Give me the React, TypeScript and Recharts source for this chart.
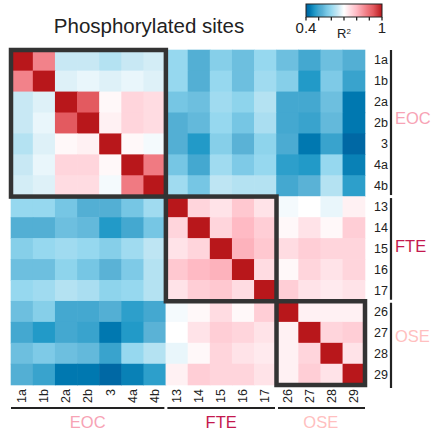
import React from 'react';
import { ScatterChart, Scatter, XAxis, YAxis } from 'recharts';

const sampleLabels = ['1a', '1b', '2a', '2b', '3', '4a', '4b', '13', '14', '15', '16', '17', '26', '27', '28', '29'];
const groupNames = ['EOC', 'FTE', 'OSE'];
const groupFirst = [0, 7, 12];
const groupLast = [6, 11, 15];
const groupColors = ['#f7a3b5', '#c4184e', '#ffbfc0'];

const row1a = [1, 0.87, 0.65, 0.65, 0.63, 0.65, 0.66, 0.6, 0.52, 0.58, 0.55, 0.6, 0.55, 0.5, 0.55, 0.52];
const row1b = [0.87, 1, 0.67, 0.68, 0.67, 0.68, 0.67, 0.6, 0.52, 0.6, 0.55, 0.61, 0.58, 0.47, 0.57, 0.49];
const row2a = [0.65, 0.67, 1, 0.93, 0.71, 0.76, 0.75, 0.56, 0.55, 0.61, 0.59, 0.63, 0.5, 0.5, 0.55, 0.43];
const row2b = [0.65, 0.68, 0.93, 1, 0.72, 0.76, 0.75, 0.52, 0.54, 0.6, 0.56, 0.62, 0.5, 0.49, 0.54, 0.43];
const row3 = [0.63, 0.67, 0.71, 0.72, 1, 0.71, 0.69, 0.52, 0.47, 0.58, 0.53, 0.59, 0.51, 0.43, 0.49, 0.41];
const row4a = [0.65, 0.68, 0.76, 0.76, 0.71, 1, 0.88, 0.56, 0.5, 0.61, 0.57, 0.6, 0.48, 0.47, 0.6, 0.44];
const row4b = [0.66, 0.67, 0.75, 0.75, 0.69, 0.88, 1, 0.61, 0.56, 0.64, 0.63, 0.63, 0.5, 0.53, 0.63, 0.48];
const row13 = [0.6, 0.6, 0.56, 0.52, 0.52, 0.56, 0.61, 1, 0.76, 0.74, 0.78, 0.74, 0.69, 0.7, 0.68, 0.72];
const row14 = [0.52, 0.52, 0.55, 0.54, 0.47, 0.5, 0.56, 0.76, 1, 0.76, 0.8, 0.77, 0.71, 0.74, 0.71, 0.77];
const row15 = [0.58, 0.6, 0.61, 0.6, 0.58, 0.61, 0.64, 0.74, 0.76, 1, 0.81, 0.78, 0.75, 0.77, 0.76, 0.76];
const row16 = [0.55, 0.55, 0.59, 0.56, 0.53, 0.57, 0.63, 0.78, 0.8, 0.81, 1, 0.75, 0.71, 0.76, 0.74, 0.76];
const row17 = [0.6, 0.61, 0.63, 0.62, 0.59, 0.6, 0.63, 0.74, 0.77, 0.78, 0.75, 1, 0.77, 0.74, 0.73, 0.74];
const row26 = [0.55, 0.58, 0.5, 0.5, 0.52, 0.48, 0.5, 0.69, 0.71, 0.75, 0.71, 0.77, 1, 0.72, 0.72, 0.72];
const row27 = [0.5, 0.47, 0.5, 0.49, 0.43, 0.47, 0.53, 0.7, 0.74, 0.77, 0.76, 0.74, 0.72, 1, 0.76, 0.77];
const row28 = [0.55, 0.57, 0.55, 0.54, 0.49, 0.6, 0.63, 0.68, 0.71, 0.76, 0.74, 0.73, 0.72, 0.76, 1, 0.74];
const row29 = [0.52, 0.49, 0.43, 0.43, 0.41, 0.44, 0.48, 0.72, 0.77, 0.76, 0.76, 0.74, 0.72, 0.77, 0.74, 1];

const matrix = [row1a, row1b, row2a, row2b, row3, row4a, row4b, row13, row14, row15, row16, row17, row26, row27, row28, row29];

const colorbarTicks = [0.4, 0.5, 0.6, 0.7, 0.8, 0.9, 1.0];
const colorbarLabels = ['0.4', '1'];

const colorStops: [number, string][] = [
  [0.4, '#00609e'],
  [0.43, '#0078b0'],
  [0.47, '#229ac8'],
  [0.5, '#44a8d0'],
  [0.53, '#5ab2d6'],
  [0.56, '#76c6e4'],
  [0.6, '#96d8ef'],
  [0.65, '#c8e8f4'],
  [0.7, '#ffffff'],
  [0.75, '#ffdce2'],
  [0.8, '#ffbac4'],
  [0.88, '#f07a82'],
  [0.93, '#e35a60'],
  [1.0, '#b8171b'],
];

function hexToRgb(h: string) {
  return [parseInt(h.slice(1, 3), 16), parseInt(h.slice(3, 5), 16), parseInt(h.slice(5, 7), 16)];
}
function colorFor(v: number) {
  if (v <= colorStops[0][0]) return colorStops[0][1];
  for (let i = 1; i < colorStops.length; i++) {
    const [v1, c1] = colorStops[i];
    const [v0, c0] = colorStops[i - 1];
    if (v <= v1) {
      const t = (v - v0) / (v1 - v0);
      const a = hexToRgb(c0);
      const b = hexToRgb(c1);
      const m = a.map((x, k) => Math.round(x + (b[k] - x) * t));
      return `rgb(${m[0]},${m[1]},${m[2]})`;
    }
  }
  return colorStops[colorStops.length - 1][1];
}

const cells = matrix.flatMap((row, i) => row.map((v, j) => ({ x: j, y: i, v })));

const W = 432;
const H = 432;
const PLOT_LEFT = 11;
const PLOT_TOP = 50;
const PLOT_RIGHT = 365;
const PLOT_BOTTOM = 385;
const N = sampleLabels.length;
const cellW = (PLOT_RIGHT - PLOT_LEFT) / N;
const cellH = (PLOT_BOTTOM - PLOT_TOP) / N;
const FONT = '"Liberation Sans", Arial, sans-serif';
const ticks = sampleLabels.map((_, i) => i);

const CellShape = (props: any) => {
  const { cx, cy, payload } = props;
  return (
    <rect
      x={cx - cellW / 2 - 0.3}
      y={cy - cellH / 2 - 0.3}
      width={cellW + 0.6}
      height={cellH + 0.6}
      fill={colorFor(payload.v)}
    />
  );
};

const XTick = (props: any) => {
  const { x, payload } = props;
  const y = 389;
  return (
    <text
      x={x}
      y={y}
      transform={`rotate(-90 ${x} ${y})`}
      textAnchor="end"
      dominantBaseline="central"
      fontSize={12.5}
      fontFamily={FONT}
      fill="#222"
    >
      {sampleLabels[payload.value]}
    </text>
  );
};

const YTick = (props: any) => {
  const { y, payload } = props;
  return (
    <text x={388} y={y} textAnchor="end" dominantBaseline="central" fontSize={12.5} fontFamily={FONT} fill="#222">
      {sampleLabels[payload.value]}
    </text>
  );
};

const rightLabelY = [118, 246, 336];

export default function App() {
  const cbLeft = 306;
  const cbRight = 382;
  const cbTop = 4;
  const cbBottom = 17;
  const cbX = (v: number) => cbLeft + ((v - 0.4) / 0.6) * (cbRight - cbLeft);
  return (
    <div style={{ position: 'absolute', left: 0, top: 0, width: W, height: H, background: '#fff' }}>
      <ScatterChart width={W} height={H} margin={{ top: PLOT_TOP, left: PLOT_LEFT, right: 7, bottom: 17 }}>
        <XAxis
          type="number"
          dataKey="x"
          domain={[-0.5, N - 0.5]}
          ticks={ticks}
          interval={0}
          height={30}
          axisLine={false}
          tickLine={false}
          tick={<XTick />}
        />
        <YAxis
          type="number"
          dataKey="y"
          orientation="right"
          reversed
          domain={[-0.5, N - 0.5]}
          ticks={ticks}
          interval={0}
          width={60}
          axisLine={false}
          tickLine={false}
          tick={<YTick />}
        />
        <Scatter data={cells} shape={<CellShape />} isAnimationActive={false} />
      </ScatterChart>
      <svg width={W} height={H} style={{ position: 'absolute', left: 0, top: 0, pointerEvents: 'none' }}>
        <defs>
          <linearGradient id="cbgrad" x1="0" x2="1" y1="0" y2="0">
            {colorStops.map(([v, c], i) => (
              <stop key={i} offset={(v - 0.4) / 0.6} stopColor={c} />
            ))}
          </linearGradient>
        </defs>
        <text x={149} y={33} textAnchor="middle" fontSize={20.5} fontFamily={FONT} fill="#222">
          Phosphorylated sites
        </text>
        <rect x={cbLeft} y={cbTop} width={cbRight - cbLeft} height={cbBottom - cbTop} fill="url(#cbgrad)" stroke="#222" strokeWidth={1} />
        {colorbarTicks.map((t, i) => (
          <line key={i} x1={cbX(t)} x2={cbX(t)} y1={cbBottom} y2={cbBottom + 3.5} stroke="#222" strokeWidth={1.3} />
        ))}
        <text x={cbX(0.4)} y={33} textAnchor="middle" fontSize={15} fontFamily={FONT} fill="#222">
          {colorbarLabels[0]}
        </text>
        <text x={cbX(1.0)} y={33} textAnchor="middle" fontSize={15} fontFamily={FONT} fill="#222">
          {colorbarLabels[1]}
        </text>
        <text x={344} y={38} textAnchor="middle" fontSize={13} fontFamily={FONT} fill="#222">
          R<tspan dy={-4} fontSize={8}>2</tspan>
        </text>
        {groupFirst.map((f, g) => {
          const l = groupLast[g];
          const bx0 = PLOT_LEFT + f * cellW;
          const bx1 = PLOT_LEFT + (l + 1) * cellW;
          const by0 = PLOT_TOP + f * cellH;
          const by1 = PLOT_TOP + (l + 1) * cellH;
          return (
            <rect
              key={'box' + g}
              x={bx0}
              y={by0}
              width={bx1 - bx0}
              height={by1 - by0}
              fill="none"
              stroke="#333"
              strokeWidth={4.5}
            />
          );
        })}
        {groupFirst.map((f, g) => {
          const l = groupLast[g];
          const x0 = PLOT_LEFT + f * cellW + (f === 0 ? 0 : 1.5);
          const x1 = PLOT_LEFT + (l + 1) * cellW - 1.5;
          const y0 = PLOT_TOP + f * cellH + (f === 0 ? 0 : 1.5);
          const y1 = PLOT_TOP + (l + 1) * cellH - (l === N - 1 ? -3 : 1.5);
          return (
            <g key={g}>
              <line x1={x0} x2={x1 + (l === N - 1 ? 1.5 : 0)} y1={408} y2={408} stroke="#222" strokeWidth={2.2} />
              <text
                x={(x0 + x1) / 2}
                y={422}
                textAnchor="middle"
                dominantBaseline="central"
                fontSize={16.5}
                fontFamily={FONT}
                fill={groupColors[g]}
              >
                {groupNames[g]}
              </text>
              <line x1={391} x2={391} y1={y0} y2={y1} stroke="#222" strokeWidth={2.2} />
              <text x={395} y={rightLabelY[g]} dominantBaseline="central" fontSize={16.5} fontFamily={FONT} fill={groupColors[g]}>
                {groupNames[g]}
              </text>
            </g>
          );
        })}
      </svg>
    </div>
  );
}
